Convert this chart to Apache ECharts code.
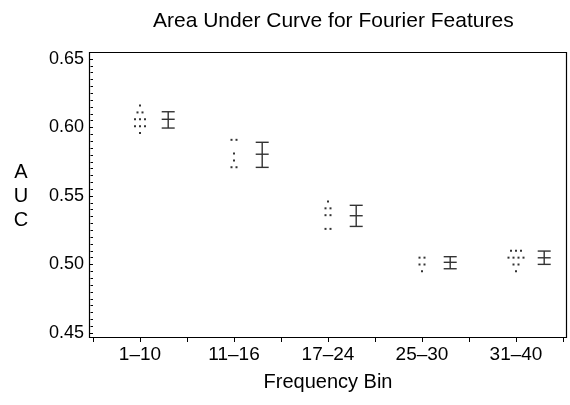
<!DOCTYPE html>
<html>
<head>
<meta charset="utf-8">
<script src="https://cdn.jsdelivr.net/npm/echarts@6/dist/echarts.min.js"></script>
<style>
  html, body { margin: 0; padding: 0; background: #fff; }
  #main { width: 570px; height: 405px; }
</style>
</head>
<body>
<div id="main"></div>
<script>
// frequency bins on the x axis
const bins = ['1–10', '11–16', '17–24', '25–30', '31–40'];

// AUC of each single frequency, one list per bin (dot plot)
const dots1 = [0.616, 0.611, 0.611, 0.606, 0.606, 0.606, 0.601, 0.601, 0.601, 0.596];
const dots2 = [0.591, 0.591, 0.581, 0.576, 0.571, 0.571];
const dots3 = [0.546, 0.541, 0.541, 0.536, 0.536, 0.526, 0.526];
const dots4 = [0.505, 0.505, 0.500, 0.500, 0.495];
const dots5 = [0.510, 0.510, 0.510, 0.505, 0.505, 0.505, 0.505, 0.500, 0.500, 0.495];

// error bars: centre, lower and upper end
const barMid  = [0.6060, 0.5805, 0.5356, 0.5016, 0.5049];
const barLow  = [0.5996, 0.5709, 0.5278, 0.4969, 0.5001];
const barHigh = [0.6115, 0.5892, 0.5432, 0.5057, 0.5098];

const yTicks = [0.45, 0.50, 0.55, 0.60, 0.65];

const FONT = '"Liberation Sans", Arial, Helvetica, sans-serif';
const allDots = [dots1, dots2, dots3, dots4, dots5];

// spread equal values side by side, like a dot plot
let scatterData = [];
allDots.forEach((list, i) => {
  const x = 2 * i + 1;
  list.forEach((v, j) => {
    const same = list.filter(w => w === v).length;
    const pos = list.slice(0, j).filter(w => w === v).length;
    const dx = (pos - (same - 1) / 2) * 5;
    scatterData.push({ value: [x, v], symbolOffset: [dx, 0] });
  });
});

const barData = bins.map((b, i) => [2 * i + 1.6, barLow[i], barMid[i], barHigh[i]]);

let myChart = echarts.init(document.getElementById('main'));
myChart.setOption({
  animation: false,
  backgroundColor: '#fff',
  title: {
    text: 'Area Under Curve for Fourier Features',
    left: 148,
    top: 6,
    textStyle: { fontFamily: FONT, fontSize: 21, fontWeight: 'normal', color: '#000' }
  },
  grid: { left: 93, right: 7, top: 59, bottom: 72 },
  graphic: [{
    type: 'rect',
    shape: { x: 89.5, y: 52.5, width: 477, height: 285 },
    style: { fill: 'none', stroke: '#000', lineWidth: 1.2 },
    silent: true
  }],
  xAxis: {
    type: 'value',
    min: 0,
    max: 10,
    interval: 1,
    offset: 4,
    name: 'Frequency Bin',
    nameLocation: 'middle',
    nameGap: 35,
    nameTextStyle: { fontFamily: FONT, fontSize: 20, color: '#000' },
    axisLine: { show: false },
    axisTick: { show: true, length: 5, lineStyle: { color: '#000' } },
    axisLabel: {
      margin: 8,
      fontFamily: FONT, fontSize: 19, color: '#000',
      formatter: v => (v % 2 === 1 ? bins[(v - 1) / 2] : '')
    },
    splitLine: { show: false }
  },
  yAxis: {
    type: 'value',
    min: yTicks[0],
    max: yTicks[yTicks.length - 1],
    interval: 0.05,
    offset: 3,
    name: 'A\nU\nC',
    nameLocation: 'middle',
    nameRotate: 0,
    nameGap: 69,
    nameTextStyle: { fontFamily: FONT, fontSize: 20, color: '#000', lineHeight: 24, align: 'center', padding: [4, 0, 0, 0] },
    axisLine: { show: false },
    axisTick: { show: true, length: 4, lineStyle: { color: '#000' } },
    minorTick: { show: true, splitNumber: 10, length: 2.5, lineStyle: { color: '#000' } },
    axisLabel: {
      margin: 6,
      fontFamily: FONT, fontSize: 18, color: '#000',
      formatter: v => v.toFixed(2)
    },
    splitLine: { show: false }
  },
  series: [
    {
      type: 'scatter',
      symbol: 'rect',
      symbolSize: 2,
      itemStyle: { color: '#000' },
      data: scatterData
    },
    {
      type: 'custom',
      data: barData,
      renderItem: function (params, api) {
        const x = api.value(0);
        const lo = api.coord([x, api.value(1)]);
        const mid = api.coord([x, api.value(2)]);
        const hi = api.coord([x, api.value(3)]);
        const hw = 6.5;
        const style = { stroke: '#333', lineWidth: 1.4 };
        return {
          type: 'group',
          children: [
            { type: 'line', shape: { x1: lo[0], y1: lo[1], x2: hi[0], y2: hi[1] }, style: style },
            { type: 'line', shape: { x1: lo[0] - hw, y1: lo[1], x2: lo[0] + hw, y2: lo[1] }, style: style },
            { type: 'line', shape: { x1: hi[0] - hw, y1: hi[1], x2: hi[0] + hw, y2: hi[1] }, style: style },
            { type: 'line', shape: { x1: mid[0] - hw, y1: mid[1], x2: mid[0] + hw, y2: mid[1] }, style: style }
          ]
        };
      }
    }
  ]
});
</script>
</body>
</html>
